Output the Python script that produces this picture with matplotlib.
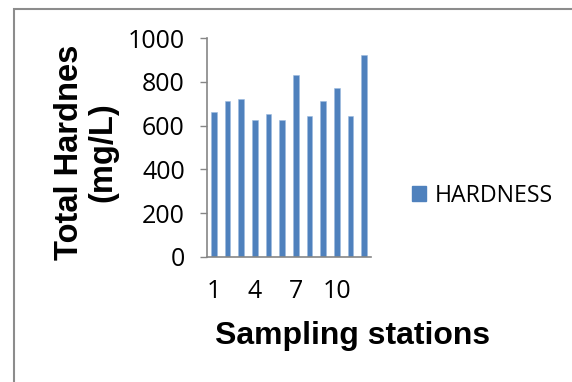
import matplotlib
matplotlib.use("Agg")
import matplotlib.pyplot as plt
from matplotlib.patches import Rectangle, Patch

# data
stations = list(range(1, 13))
hardness = [661, 713, 722, 627, 652, 627, 832, 643, 713, 772, 646, 922]
shown_ticks = [1, 4, 7, 10]
yticks = [0, 200, 400, 600, 800, 1000]

BLUE = "#4F81BD"
GRAY = "#868686"

fig = plt.figure(figsize=(5.72, 3.82), dpi=100)
fig.patch.set_facecolor("white")

# outer chart frame (runs off the right/bottom edge in the reference)
fig.patches.append(Rectangle((14 / 572, -0.1), 1.2, 1 - 9 / 382 + 0.1,
                             transform=fig.transFigure, fill=False,
                             edgecolor="#8c8c8c", linewidth=1.5))

ax = fig.add_axes([207 / 572, 1 - 257 / 382, 164 / 572, 219 / 382])
ax.bar(stations, hardness, width=0.4, color=BLUE, edgecolor="#9dbbe0",
       linewidth=0.4, label="HARDNESS")

ax.set_xlim(0.5, 12.5)
ax.set_ylim(0, 1000)
ax.set_xticks(shown_ticks)
ax.set_xticklabels([str(t) for t in shown_ticks])
ax.set_yticks(yticks)

for s in ["top", "right"]:
    ax.spines[s].set_visible(False)
for s in ["left", "bottom"]:
    ax.spines[s].set_color(GRAY)
    ax.spines[s].set_linewidth(1.2)

ax.tick_params(axis="y", length=5, width=1, color=GRAY, pad=11,
               labelsize=18)
ax.tick_params(axis="x", length=0, pad=16, labelsize=18)
for lab in ax.get_xticklabels() + ax.get_yticklabels():
    lab.set_family("Open Sans")

fig.text(86 / 572, 1 - 152 / 382, "Total Hardnes\n(mg/L)", rotation=90,
         ha="center", va="center", multialignment="center",
         family="Liberation Sans", fontweight="bold", fontsize=23.5,
         linespacing=1.12)

fig.text(353 / 572, 1 - 344 / 382, "Sampling stations", ha="center",
         va="baseline", family="Liberation Sans", fontweight="bold",
         fontsize=23)

handles = [Patch(facecolor=BLUE, edgecolor=BLUE)]
fig.legend(handles, ["HARDNESS"], loc="center left",
           bbox_to_anchor=(412 / 572, 1 - 196 / 382), frameon=False,
           prop={"family": "Open Sans", "size": 16.7},
           handlelength=0.6, handleheight=0.6, handletextpad=0.4,
           borderaxespad=0, borderpad=0)

fig.savefig("out.png", dpi=100)
